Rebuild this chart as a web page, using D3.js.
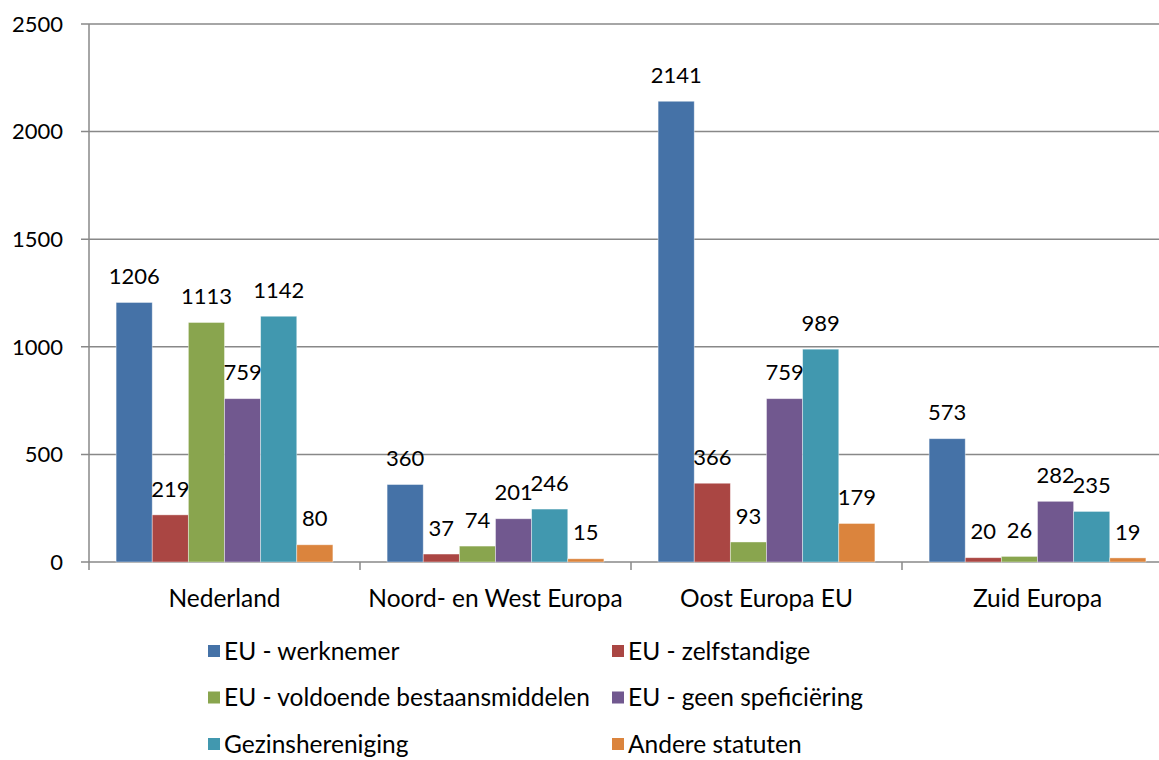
<!DOCTYPE html>
<html>
<head>
<meta charset="utf-8">
<script src="https://cdn.jsdelivr.net/npm/d3@7"></script>
<style>
  body { margin: 0; background: #fff; }
  text { font-family: Lato, "Noto Sans", sans-serif; fill: #000; }
</style>
</head>
<body>
<script>
// data
const categories = ["Nederland", "Noord- en West Europa", "Oost Europa EU", "Zuid Europa"];
const seriesNames = ["EU - werknemer", "EU - zelfstandige", "EU - voldoende bestaansmiddelen",
  "EU - geen speficiëring", "Gezinshereniging", "Andere statuten"];
const werknemer   = [1206, 360, 2141, 573];
const zelfstandig = [219, 37, 366, 20];
const voldoende   = [1113, 74, 93, 26];
const geenSpec    = [759, 201, 759, 282];
const gezin       = [1142, 246, 989, 235];
const andere      = [80, 15, 179, 19];
const yTicks = [0, 500, 1000, 1500, 2000, 2500];

const colors = ["#4572A7", "#AA4643", "#89A54E", "#71588F", "#4198AF", "#DB843D"];
const seriesValues = [werknemer, zelfstandig, voldoende, geenSpec, gezin, andere];

const width = 1159, height = 760;
const margin = {top: 24, left: 89, bottom: 198};
const plotW = 1084;

const svg = d3.select("body").append("svg")
    .attr("width", width)
    .attr("height", height);

const x0 = d3.scaleBand()
    .domain(categories)
    .range([margin.left, margin.left + plotW]);

const x1 = d3.scaleBand()
    .domain(seriesNames)
    .range([0, x0.bandwidth()])
    .paddingInner(0)
    .paddingOuter(0.75);

const y = d3.scaleLinear()
    .domain([0, 2500])
    .range([height - margin.bottom, margin.top]);

// gridlines
svg.append("g")
  .selectAll("line")
  .data(yTicks)
  .join("line")
    .attr("x1", margin.left - 8)
    .attr("x2", margin.left + plotW)
    .attr("y1", d => y(d))
    .attr("y2", d => y(d))
    .attr("stroke", "#888")
    .attr("stroke-width", 1.5);

// y labels
svg.append("g")
  .selectAll("text")
  .data(yTicks)
  .join("text")
    .attr("x", 63)
    .attr("y", d => y(d))
    .attr("dy", "0.35em")
    .attr("text-anchor", "end")
    .style("font-size", "22px")
    .text(d => d);

// bars
const rows = [];
categories.forEach((c, i) => {
  seriesNames.forEach((s, j) => {
    rows.push({cat: c, series: s, value: seriesValues[j][i], color: colors[j]});
  });
});

const barG = svg.append("g");
barG.selectAll("rect")
  .data(rows)
  .join("rect")
    .attr("x", d => x0(d.cat) + x1(d.series))
    .attr("y", d => y(d.value))
    .attr("width", x1.bandwidth())
    .attr("height", d => y(0) - y(d.value))
    .attr("fill", d => d.color)
    .attr("stroke", "rgba(255,255,255,0.5)")
    .attr("stroke-width", 0.8);

barG.selectAll("text")
  .data(rows)
  .join("text")
    .attr("x", d => x0(d.cat) + x1(d.series) + x1.bandwidth() / 2)
    .attr("y", d => y(d.value) - 26)
    .attr("dy", "0.35em")
    .attr("text-anchor", "middle")
    .style("font-size", "22px")
    .text(d => d.value);

// axes lines
svg.append("line")
    .attr("x1", margin.left).attr("x2", margin.left)
    .attr("y1", margin.top).attr("y2", y(0) + 8)
    .attr("stroke", "#888").attr("stroke-width", 1.5);

const bounds = categories.map(c => x0(c));
svg.append("g")
  .selectAll("line")
  .data(bounds.slice(1))
  .join("line")
    .attr("x1", d => d).attr("x2", d => d)
    .attr("y1", y(0)).attr("y2", y(0) + 8)
    .attr("stroke", "#888").attr("stroke-width", 1.5);

svg.append("g")
  .selectAll("text")
  .data(categories)
  .join("text")
    .attr("x", d => x0(d) + x0.bandwidth() / 2)
    .attr("y", 598)
    .attr("dy", "0.35em")
    .attr("text-anchor", "middle")
    .style("font-size", "24.5px")
    .text(d => d);

// legend
const legend = svg.append("g")
  .selectAll("g")
  .data(seriesNames)
  .join("g")
    .attr("transform", (d, i) => `translate(${i % 2 === 0 ? 208 : 612},${651 + Math.floor(i / 2) * 46.5})`);

legend.append("rect")
    .attr("x", 0).attr("y", -6)
    .attr("width", 12).attr("height", 12)
    .attr("fill", (d, i) => colors[i]);

legend.append("text")
    .attr("x", 16)
    .attr("dy", "0.35em")
    .style("font-size", "24.5px")
    .text(d => d);
</script>
</body>
</html>
